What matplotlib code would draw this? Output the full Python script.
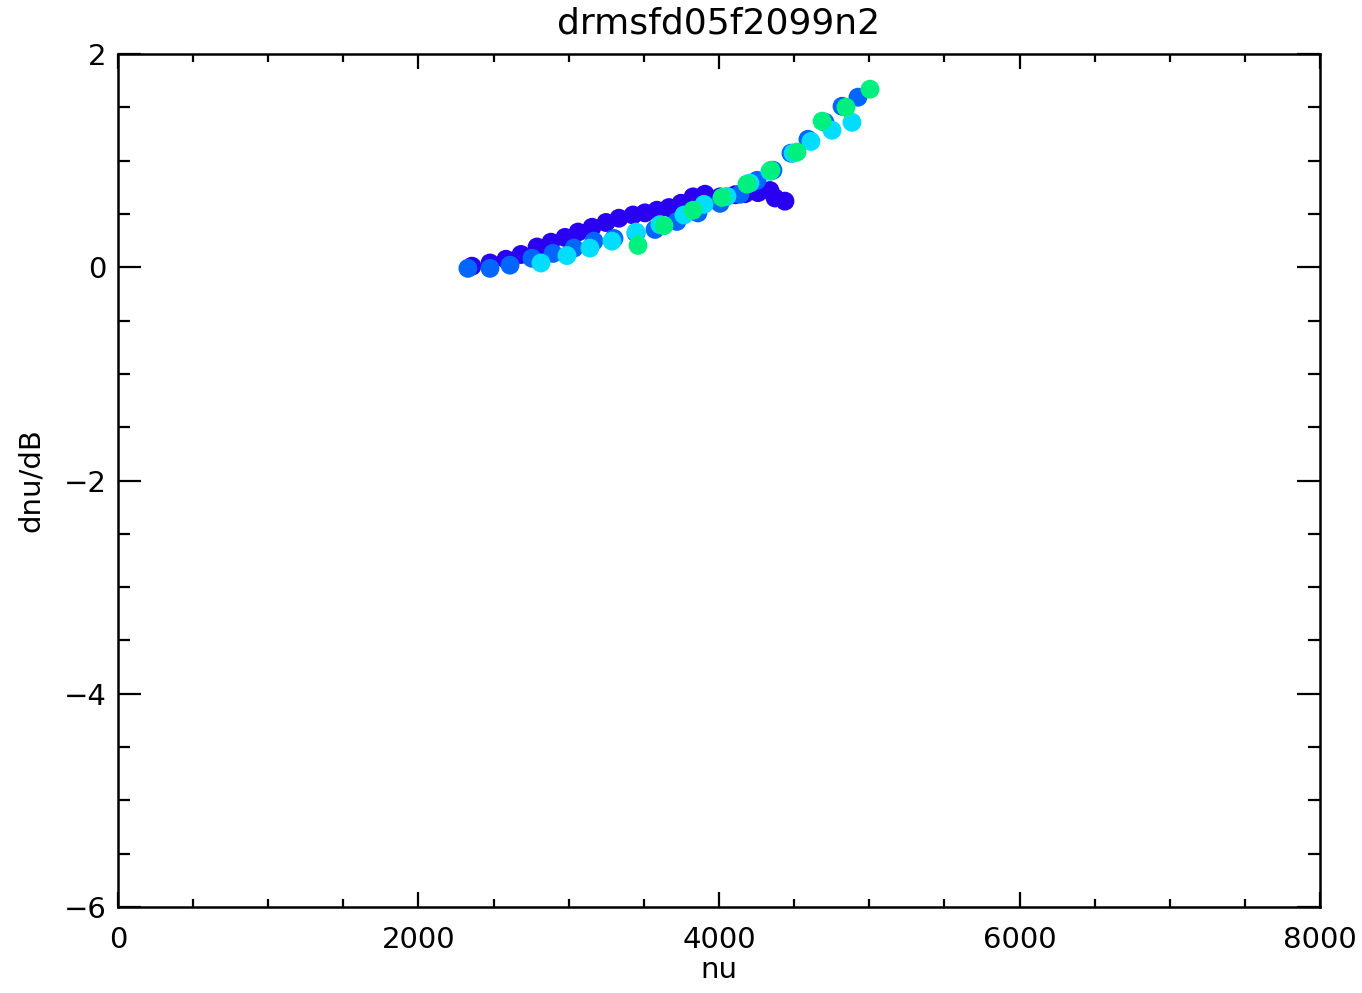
import matplotlib
matplotlib.use('Agg')
import matplotlib.pyplot as plt
from matplotlib.ticker import MultipleLocator

plt.rcParams['font.family'] = ['DejaVu Sans']

# series (nu, dnu/dB)
nu_violet = [2356, 2476, 2582, 2682, 2789, 2882, 2975, 3062, 3155, 3248, 3334, 3428, 3507,
             3587, 3667, 3747, 3827, 3907, 4007, 4107, 4173, 4260, 4339, 4373, 4439]
dnu_violet = [0.01, 0.04, 0.075, 0.12, 0.19, 0.235, 0.28, 0.33, 0.375, 0.42, 0.46, 0.49, 0.51,
              0.535, 0.56, 0.60, 0.66, 0.685, 0.66, 0.68, 0.69, 0.70, 0.72, 0.65, 0.62]

nu_blue = [2329, 2476, 2609, 2755, 2895, 3035, 3168, 3301, 3448, 3574, 3720, 3860, 4007,
           4140, 4253, 4359, 4479, 4592, 4705, 4819, 4925]
dnu_blue = [-0.01, -0.01, 0.02, 0.085, 0.13, 0.18, 0.245, 0.27, 0.32, 0.355, 0.43, 0.51, 0.60,
            0.685, 0.815, 0.91, 1.07, 1.20, 1.36, 1.51, 1.595]

nu_cyan = [2815, 2988, 3141, 3288, 3448, 3607, 3767, 3900, 4053, 4206, 4339, 4493, 4612, 4752, 4885]
dnu_cyan = [0.04, 0.11, 0.18, 0.245, 0.33, 0.40, 0.49, 0.59, 0.665, 0.79, 0.90, 1.07, 1.18, 1.285, 1.36]

nu_green = [3461, 3634, 3827, 4020, 4186, 4346, 4519, 4686, 4845, 5005]
dnu_green = [0.205, 0.39, 0.535, 0.655, 0.78, 0.91, 1.08, 1.37, 1.50, 1.67]

series = [
    (nu_violet, dnu_violet, '#2a00f0'),
    (nu_blue, dnu_blue, '#0066ff'),
    (nu_cyan, dnu_cyan, '#00ddff'),
    (nu_green, dnu_green, '#00f080'),
]

fig = plt.figure(figsize=(13.62, 9.93), dpi=100)
ax = fig.add_axes([0.0866, 0.0866, 0.9692 - 0.0866, 0.9456 - 0.0866])

for x, y, c in series:
    ax.scatter(x, y, s=185, color=c, edgecolors='none', zorder=3)

ax.set_xlim(0, 8000)
ax.set_ylim(-6, 2)
ax.xaxis.set_major_locator(MultipleLocator(2000))
ax.xaxis.set_minor_locator(MultipleLocator(500))
ax.yaxis.set_major_locator(MultipleLocator(2))
ax.yaxis.set_minor_locator(MultipleLocator(0.5))

ax.tick_params(axis='both', which='both', direction='in', top=True, right=True,
               labelsize=21, width=1.6)
ax.tick_params(axis='x', which='both', pad=14)
ax.tick_params(axis='y', which='both', pad=8)
ax.tick_params(axis='x', which='major', length=11)
ax.tick_params(axis='x', which='minor', length=6)
ax.tick_params(axis='y', which='major', length=16.5)
ax.tick_params(axis='y', which='minor', length=8.5)
for sp in ax.spines.values():
    sp.set_linewidth(1.8)

ax.set_title('drmsfd05f2099n2', fontsize=26, pad=15)
ax.set_xlabel('nu', fontsize=21, labelpad=1)
ax.set_ylabel('dnu/dB', fontsize=21, labelpad=14)

fig.savefig('out.png', dpi=100)
